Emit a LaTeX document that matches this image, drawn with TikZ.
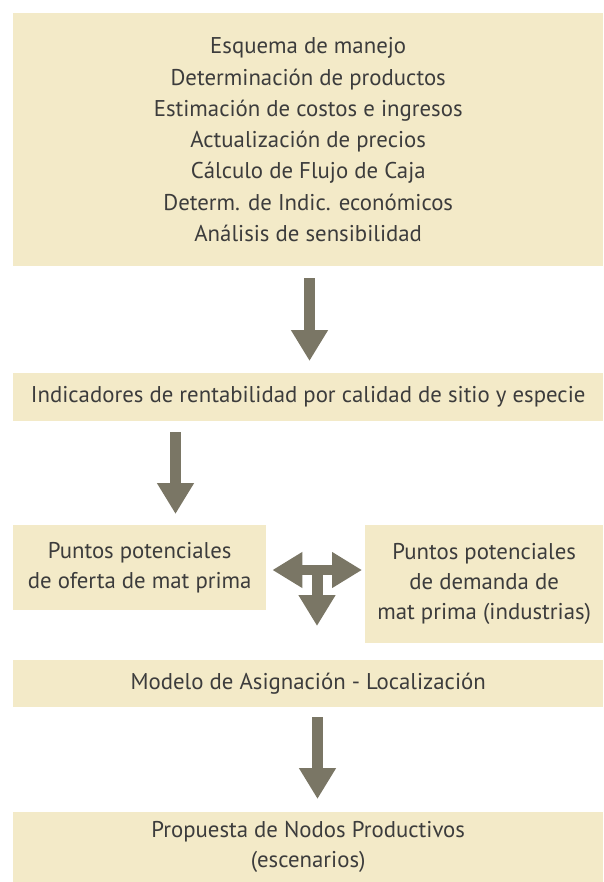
\documentclass[tikz,border=0pt]{standalone}
\usepackage{fontspec}
\setmainfont{PT Sans}
\usetikzlibrary{arrows.meta}
\definecolor{boxfill}{RGB}{243,234,200}
\definecolor{arrowcol}{RGB}{122,118,101}
\definecolor{txtcol}{RGB}{60,60,60}
\tikzset{
  boxnode/.style={fill=boxfill, draw=none, text=txtcol, align=center, inner sep=0pt,
    font=\fontsize{22.8}{31.3}\selectfont, anchor=north west},
  fatarrow/.style={draw=arrowcol, line width=11pt, line cap=butt,
    -{Triangle[width=35pt,length=31pt]}},
  fatdouble/.style={draw=arrowcol, line width=10pt, line cap=butt,
    {Triangle[width=34pt,length=30pt]}-{Triangle[width=34pt,length=30pt]}}
}
\begin{document}
\begin{tikzpicture}[x=1pt,y=-1pt]
\useasboundingbox (0,0) rectangle (603,882);
\node[boxnode, minimum width=590pt, minimum height=253pt] (top) at (13,13)
  {Esquema de manejo\\Determinación de productos\\Estimación de costos e ingresos\\Actualización de precios\\Cálculo de Flujo de Caja\\Determ. de Indic. económicos\\Análisis de sensibilidad};
\node[boxnode, minimum width=590pt, minimum height=48pt] (ind) at (13,373)
  {Indicadores de rentabilidad por calidad de sitio y especie};
\node[boxnode, minimum width=253pt, minimum height=85pt, font=\fontsize{22.8}{30}\selectfont] (oferta) at (13,525)
  {Puntos potenciales\\de oferta de mat prima};
\node[boxnode, minimum width=238pt, minimum height=118pt, font=\fontsize{22.8}{30}\selectfont] (demanda) at (365,525)
  {Puntos potenciales\\de demanda de\\mat prima (industrias)};
\node[boxnode, minimum width=590pt, minimum height=47pt] (modelo) at (13,660)
  {Modelo de Asignación - Localización};
\node[boxnode, minimum width=590pt, minimum height=70pt, font=\fontsize{22.8}{30}\selectfont] (prop) at (13,812)
  {Propuesta de Nodos Productivos\\(escenarios)};

\coordinate (a1) at (309.5,0);
\coordinate (a2) at (175.5,0);
\coordinate (tee) at (317,570);
\coordinate (a3) at (317.5,0);

\draw[fatarrow, shorten <=12pt, shorten >=12pt] (a1 |- top.south) -- (a1 |- ind.north);
\draw[fatarrow, shorten <=11pt, shorten >=11pt] (a2 |- ind.south) -- (a2 |- oferta.north);
\draw[fatdouble, shorten <=6pt, shorten >=3pt] (tee -| oferta.east) -- (tee -| demanda.west);
\draw[fatarrow, shorten >=34pt] (tee) -- (tee |- modelo.north);
\draw[fatarrow, shorten <=10pt, shorten >=13pt] (a3 |- modelo.south) -- (a3 |- prop.north);
\end{tikzpicture}
\end{document}
